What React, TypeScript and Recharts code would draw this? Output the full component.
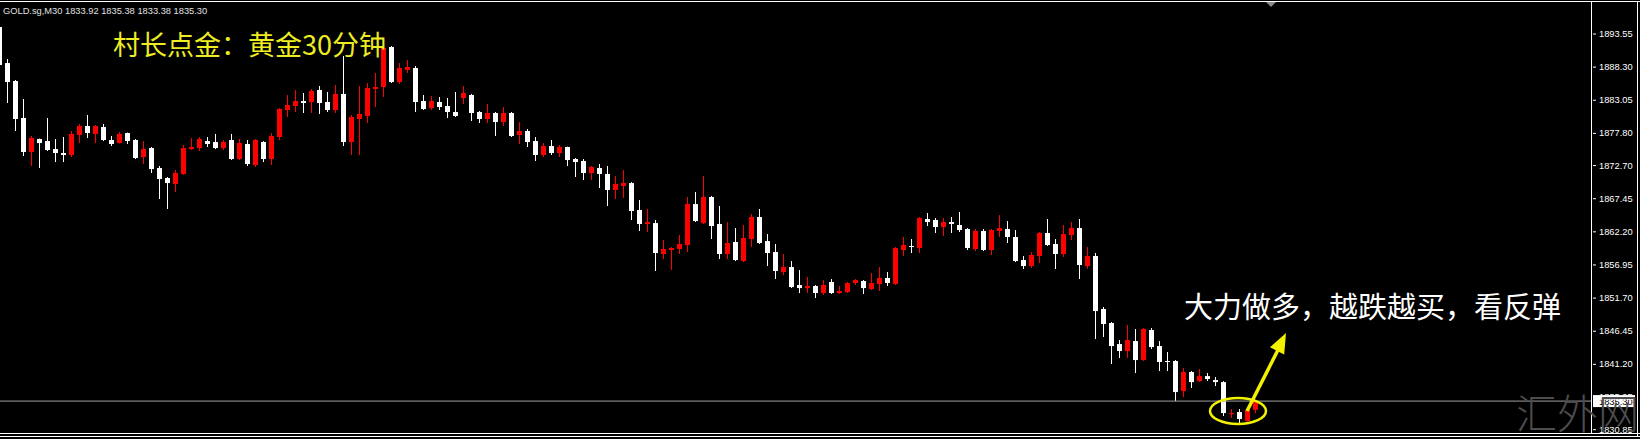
import React from "react";
import { ComposedChart, Bar, XAxis, YAxis, ReferenceLine } from "recharts";

// GOLD.sg M30 candles, oldest first (first one is cut by the left edge)
const opens = [
  1894.58, 1888.87, 1886.02, 1880.16, 1874.77, 1876.83, 1876.51, 1875.24, 1874.61, 1874.3,
  1877.47, 1878.89, 1877.63, 1878.73, 1876.67, 1876.19, 1877.78, 1876.67, 1873.98, 1875.4,
  1872.23, 1870.65, 1869.7, 1871.29, 1875.24, 1875.4, 1876.51, 1876.35, 1875.4, 1876.67,
  1873.66, 1876.04, 1872.71, 1876.35, 1873.66, 1877.15, 1881.43, 1882.06, 1882.85, 1882.69,
  1884.6, 1882.69, 1881.43, 1883.97, 1876.35, 1880.0, 1880.48, 1884.76, 1885.07, 1891.41,
  1885.86, 1887.77, 1888.08, 1882.85, 1881.74, 1882.69, 1882.06, 1881.11, 1883.33, 1883.81,
  1881.11, 1880.0, 1880.95, 1879.52, 1880.95, 1877.47, 1878.1, 1876.51, 1874.3, 1875.72,
  1874.61, 1875.56, 1873.66, 1873.34, 1871.44, 1872.23, 1871.29, 1868.75, 1869.38, 1869.85,
  1865.58, 1863.36, 1863.51, 1858.61, 1859.24, 1859.4, 1860.03, 1866.52, 1863.51, 1867.64,
  1863.36, 1858.61, 1860.51, 1857.49, 1860.98, 1864.47, 1860.66, 1858.92, 1855.75, 1856.54,
  1853.69, 1853.21, 1853.53, 1852.42, 1854.17, 1852.42, 1852.58, 1854.01, 1854.33, 1853.06,
  1853.85, 1854.8, 1853.85, 1859.24, 1859.87, 1859.56, 1864.15, 1863.99, 1862.88, 1863.67,
  1863.2, 1862.57, 1859.4, 1862.25, 1859.24, 1862.25, 1862.57, 1861.3, 1857.65, 1856.7,
  1858.29, 1861.93, 1860.19, 1858.61, 1861.62, 1862.72, 1856.7, 1858.29, 1849.89, 1847.67,
  1844.34, 1843.23, 1844.81, 1841.8, 1846.56, 1844.02, 1841.65, 1841.65, 1836.89, 1839.9,
  1838.47, 1839.26, 1838.63, 1838.31, 1833.25, 1833.56, 1832.13, 1833.92,
];
const highs = [
  1894.9, 1889.51, 1886.18, 1883.17, 1877.31, 1876.9, 1880.16, 1876.83, 1877.15, 1878.1,
  1879.21, 1880.64, 1879.05, 1879.21, 1877.31, 1877.94, 1877.85, 1876.83, 1876.51, 1875.56,
  1872.55, 1870.81, 1871.92, 1875.88, 1876.99, 1877.15, 1877.15, 1877.63, 1876.67, 1877.63,
  1876.83, 1876.67, 1876.83, 1876.51, 1877.78, 1881.74, 1883.81, 1884.6, 1884.12, 1884.76,
  1885.23, 1884.28, 1885.39, 1889.99, 1880.64, 1885.23, 1885.7, 1887.29, 1892.05, 1891.57,
  1888.87, 1889.35, 1888.4, 1883.81, 1883.65, 1883.49, 1883.33, 1884.28, 1885.23, 1883.97,
  1881.27, 1882.38, 1881.11, 1881.9, 1881.11, 1879.52, 1878.42, 1877.15, 1876.19, 1876.67,
  1875.88, 1875.62, 1873.82, 1873.66, 1872.55, 1872.87, 1872.55, 1870.96, 1871.92, 1870.01,
  1867.16, 1865.74, 1863.99, 1860.82, 1859.72, 1861.62, 1867.64, 1868.43, 1870.96, 1867.8,
  1866.21, 1863.67, 1862.72, 1863.2, 1864.94, 1865.74, 1861.77, 1860.19, 1858.61, 1857.49,
  1856.07, 1854.96, 1853.69, 1854.48, 1854.64, 1853.53, 1854.17, 1854.64, 1854.48, 1855.59,
  1856.54, 1855.75, 1859.72, 1861.3, 1860.98, 1864.47, 1865.1, 1864.31, 1864.31, 1864.47,
  1865.26, 1862.72, 1862.57, 1862.57, 1862.57, 1864.78, 1863.83, 1862.41, 1858.29, 1858.92,
  1862.09, 1864.15, 1860.98, 1863.2, 1863.67, 1864.15, 1859.72, 1858.76, 1850.2, 1847.82,
  1844.97, 1847.35, 1846.72, 1846.88, 1846.88, 1844.81, 1843.07, 1841.8, 1840.54, 1840.06,
  1840.38, 1839.74, 1839.11, 1838.47, 1834.03, 1834.03, 1834.35, 1835.38,
];
const lows = [
  1888.24, 1882.53, 1878.1, 1874.14, 1872.55, 1872.23, 1874.93, 1873.18, 1873.18, 1873.98,
  1876.19, 1876.99, 1876.19, 1876.51, 1875.72, 1876.1, 1876.04, 1873.66, 1872.87, 1871.44,
  1867.32, 1865.74, 1868.43, 1871.13, 1875.09, 1874.93, 1875.56, 1875.24, 1875.09, 1873.5,
  1873.5, 1872.55, 1872.39, 1873.18, 1872.71, 1876.67, 1880.32, 1881.11, 1880.95, 1880.95,
  1880.8, 1881.11, 1880.95, 1875.72, 1874.3, 1874.3, 1879.37, 1881.9, 1883.49, 1885.7,
  1885.55, 1887.29, 1881.11, 1881.43, 1881.43, 1881.43, 1880.16, 1880.32, 1882.38, 1879.68,
  1879.37, 1879.37, 1877.31, 1878.89, 1877.15, 1876.04, 1875.56, 1873.34, 1873.98, 1874.3,
  1873.98, 1872.55, 1870.81, 1870.33, 1870.33, 1869.07, 1866.21, 1867.32, 1867.48, 1863.99,
  1862.25, 1862.09, 1855.91, 1857.81, 1856.07, 1858.61, 1858.92, 1863.67, 1863.36, 1860.98,
  1857.81, 1857.81, 1857.49, 1857.33, 1859.72, 1860.19, 1856.7, 1854.64, 1855.27, 1853.21,
  1852.42, 1852.42, 1851.63, 1852.11, 1852.27, 1852.27, 1852.42, 1853.69, 1852.27, 1852.9,
  1852.74, 1853.53, 1853.69, 1858.29, 1858.76, 1858.76, 1863.04, 1861.93, 1861.46, 1861.93,
  1862.09, 1859.24, 1859.08, 1859.08, 1858.45, 1861.3, 1860.35, 1857.33, 1856.23, 1856.38,
  1857.17, 1859.87, 1856.23, 1858.13, 1860.82, 1854.64, 1856.23, 1845.13, 1845.45, 1841.17,
  1842.12, 1842.12, 1839.74, 1841.65, 1843.55, 1840.06, 1840.06, 1835.3, 1835.94, 1837.37,
  1838.31, 1838.47, 1837.68, 1832.93, 1832.61, 1831.82, 1832.05, 1833.38,
];
const closes = [
  1888.56, 1885.86, 1880.0, 1874.77, 1876.99, 1876.19, 1875.09, 1874.61, 1874.3, 1877.63,
  1878.89, 1877.78, 1878.89, 1876.67, 1876.04, 1877.63, 1876.51, 1873.82, 1875.24, 1872.07,
  1870.49, 1869.85, 1871.44, 1875.4, 1875.56, 1876.83, 1876.04, 1875.4, 1876.35, 1873.66,
  1876.19, 1872.87, 1876.67, 1873.66, 1877.31, 1881.58, 1882.22, 1882.85, 1882.53, 1884.44,
  1882.53, 1881.43, 1883.97, 1876.35, 1880.32, 1880.8, 1884.91, 1885.07, 1891.25, 1885.86,
  1888.08, 1888.24, 1882.69, 1881.58, 1882.85, 1881.9, 1881.11, 1880.48, 1884.12, 1880.95,
  1880.0, 1880.95, 1879.52, 1880.95, 1877.31, 1878.1, 1876.35, 1874.3, 1875.72, 1874.61,
  1875.56, 1873.5, 1873.18, 1871.44, 1872.39, 1871.29, 1868.75, 1869.7, 1869.85, 1865.42,
  1863.36, 1863.67, 1858.76, 1859.4, 1859.56, 1860.19, 1866.52, 1863.83, 1867.64, 1863.04,
  1858.61, 1860.35, 1857.65, 1861.14, 1864.47, 1860.35, 1858.76, 1855.91, 1856.54, 1853.37,
  1853.21, 1853.53, 1852.42, 1853.69, 1852.42, 1852.74, 1854.01, 1854.48, 1853.21, 1854.01,
  1854.8, 1854.01, 1859.56, 1860.03, 1859.72, 1864.31, 1863.67, 1862.88, 1863.67, 1863.36,
  1862.41, 1859.56, 1862.25, 1859.24, 1862.41, 1862.72, 1861.3, 1857.49, 1856.7, 1858.45,
  1861.93, 1860.03, 1858.61, 1861.77, 1862.72, 1856.86, 1858.29, 1849.57, 1847.51, 1844.02,
  1843.23, 1844.97, 1841.8, 1846.72, 1843.86, 1841.49, 1841.49, 1836.73, 1839.9, 1838.31,
  1839.26, 1838.79, 1838.31, 1833.4, 1833.4, 1832.45, 1833.88, 1835.3,
];

const yTicks = [
  1830.85, 1835.95, 1841.2, 1846.45, 1851.7, 1856.95, 1862.2, 1867.45, 1872.7, 1877.8,
  1883.05, 1888.3, 1893.55,
];
const lastPrice = 1835.3;
const header = "GOLD.sg,M30  1833.92 1835.38 1833.38 1835.30";

const candles = opens.map((o, i) => ({
  i,
  open: o,
  high: highs[i],
  low: lows[i],
  close: closes[i],
}));

const W = 1640;
const H = 439;
const UP = "#ff0000";
const DOWN = "#ffffff";
const AXIS_FONT = "'Liberation Sans', Arial, sans-serif";
const CJK_FONT = "'Noto Sans CJK SC', sans-serif";

function Candle(props: any) {
  const { x, y, width, height, payload } = props;
  if (!payload || x == null) return null;
  const { open, close, high, low } = payload;
  const top = Math.min(y, y + height);
  const h = Math.abs(height);
  const k = high === low ? 0 : h / (high - low);
  const color = close >= open ? UP : DOWN;
  const cx = Math.floor(x + width / 2) + 0.5;
  const bTop = top + (high - Math.max(open, close)) * k;
  const bBot = top + (high - Math.min(open, close)) * k;
  return (
    <g>
      <line x1={cx} x2={cx} y1={top} y2={top + h} stroke={color} strokeWidth={1} />
      <rect
        x={cx - 2.5}
        y={bTop}
        width={5}
        height={Math.max(1, bBot - bTop)}
        fill={color}
      />
    </g>
  );
}

function PriceTick(props: any) {
  const { x, y, payload } = props;
  return (
    <g>
      <line x1={x + 1} x2={x + 4} y1={y + 0.5} y2={y + 0.5} stroke="#fff" />
      <text
        x={x + 7}
        y={y + 3.5}
        fill="#ffffff"
        fontSize={9.3}
        fontFamily={AXIS_FONT}
      >
        {Number(payload.value).toFixed(2)}
      </text>
    </g>
  );
}

function LastTag(props: any) {
  const vb = props.viewBox || {};
  const x0 = (vb.x || 0) + (vb.width || 0) + 1;
  const y0 = vb.y || 0;
  return (
    <g>
      <rect x={x0} y={y0 - 6} width={42} height={12} fill="#ffffff" />
      <text x={x0 + 6} y={y0 + 3.5} fill="#000" fontSize={9.3} fontFamily={AXIS_FONT}>
        {lastPrice.toFixed(2)}
      </text>
    </g>
  );
}

export default function App() {
  return (
    <div
      style={{
        position: "absolute",
        left: 0,
        top: 0,
        width: W,
        height: H,
        background: "#000",
        overflow: "hidden",
      }}
    >
      <ComposedChart
        width={W}
        height={H}
        data={candles}
        margin={{ top: 0, right: 0, bottom: 7, left: -4.7 }}
      >
        <XAxis dataKey="i" hide padding={{ left: 0, right: 332.7 }} />
        <YAxis
          orientation="right"
          width={48}
          domain={[1830.4, 1898.86]}
          allowDataOverflow
          ticks={yTicks}
          interval={0}
          axisLine={false}
          tickLine={false}
          tickSize={0}
          tickMargin={0}
          tick={<PriceTick />}
        />
        <ReferenceLine y={lastPrice} stroke="#a0a0a0" label={<LastTag />} />
        <Bar
          dataKey={(d: any) => [d.low, d.high]}
          barSize={5}
          shape={<Candle />}
          isAnimationActive={false}
        />
      </ComposedChart>
      <svg
        width={W}
        height={H}
        style={{ position: "absolute", left: 0, top: 0, pointerEvents: "none" }}
      >
        <line x1={0} x2={W} y1={1.5} y2={1.5} stroke="#fff" />
        <line x1={1591.5} x2={1591.5} y1={1.5} y2={433.5} stroke="#fff" />
        <line x1={0} x2={W} y1={433.5} y2={433.5} stroke="#fff" />
        <line x1={0} x2={W} y1={436.5} y2={436.5} stroke="#fff" />
        <line x1={1637.5} x2={1637.5} y1={1.5} y2={436.5} stroke="#fff" />
        <polygon points="1266,2 1276,2 1271,7" fill="#8a8a8a" />
        <text x={3} y={14} fill="#e0e0e0" fontSize={9.3} fontFamily={AXIS_FONT}>
          {header}
        </text>
        <text x={113} y={55} fill="#eded22" fontSize={27} fontFamily={CJK_FONT}>
          村长点金：黄金30分钟
        </text>
        <text x={1184} y={318} fill="#ffffff" fontSize={29} fontFamily={CJK_FONT}>
          大力做多，越跌越买，看反弹
        </text>
        <line x1={1247} y1={411} x2={1279} y2={348} stroke="#f2f200" strokeWidth={3.5} />
        <polygon points="1286,333 1269.9,347.3 1284.2,354.5" fill="#f2f200" />
        <ellipse cx={1238} cy={411} rx={28} ry={13} fill="none" stroke="#f2f200" strokeWidth={2.5} />
        <text x={1516} y={429} fill="#4d4d4d" fontSize={41} fontWeight={300} fontFamily={CJK_FONT}>
          汇外网
        </text>
      </svg>
    </div>
  );
}
